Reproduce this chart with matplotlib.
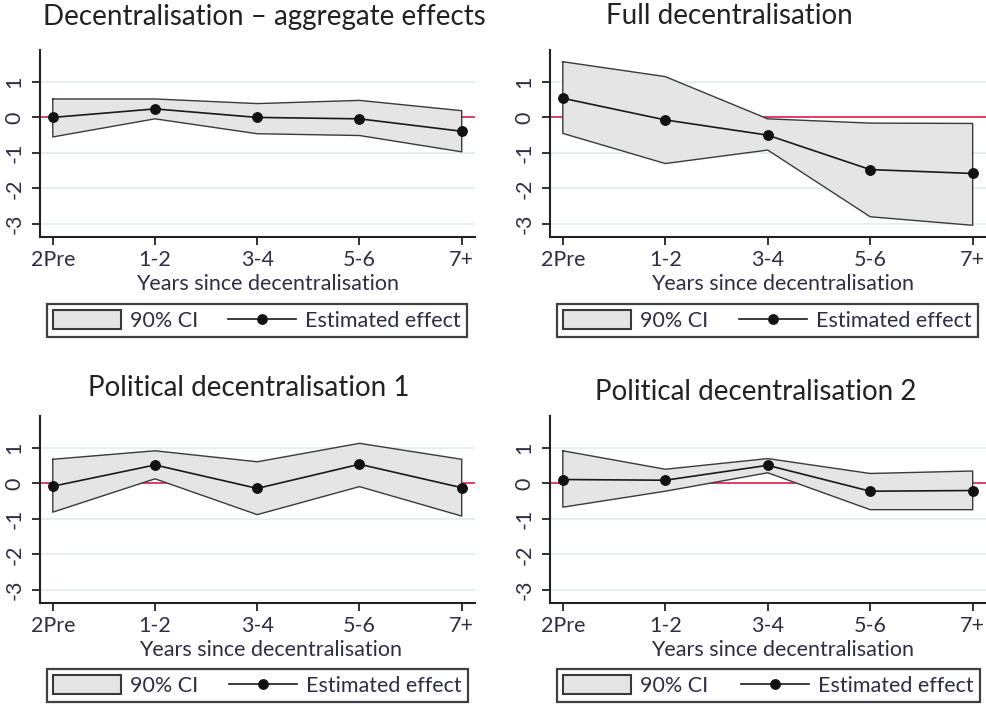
import matplotlib
matplotlib.use("Agg")
import matplotlib.pyplot as plt
from matplotlib.patches import Patch
from matplotlib.lines import Line2D

W, H = 986, 706
plt.rcParams['font.family'] = ['Lato', 'DejaVu Sans']

categories = ["2Pre", "1-2", "3-4", "5-6", "7+"]
yticks = [-3, -2, -1, 0, 1]
ytick_labels = ["-3", "-2", "-1", "0", "1"]

titles = ["Decentralisation \u2013 aggregate effects", "Full decentralisation",
          "Political decentralisation 1", "Political decentralisation 2"]

est_agg = [0.0, 0.24, 0.0, -0.04, -0.39]
hi_agg = [0.52, 0.52, 0.39, 0.48, 0.19]
lo_agg = [-0.55, -0.04, -0.46, -0.51, -0.97]

est_full = [0.54, -0.07, -0.5, -1.47, -1.58]
hi_full = [1.57, 1.15, -0.04, -0.16, -0.17]
lo_full = [-0.45, -1.3, -0.92, -2.8, -3.04]

est_pol1 = [-0.08, 0.52, -0.14, 0.54, -0.12]
hi_pol1 = [0.68, 0.92, 0.61, 1.13, 0.68]
lo_pol1 = [-0.81, 0.13, -0.88, -0.09, -0.92]

est_pol2 = [0.11, 0.09, 0.51, -0.22, -0.2]
hi_pol2 = [0.92, 0.40, 0.70, 0.28, 0.35]
lo_pol2 = [-0.67, -0.22, 0.30, -0.74, -0.74]

panels = [(est_agg, hi_agg, lo_agg), (est_full, hi_full, lo_full),
          (est_pol1, hi_pol1, lo_pol1), (est_pol2, hi_pol2, lo_pol2)]

# pixel layout (left, top, right, bottom)
ax_boxes = [(40, 50, 475, 237), (550, 50, 986, 237),
            (40, 416, 475, 603), (550, 416, 986, 603)]
title_pos = [(264, 25), (729, 24), (249, 396), (756, 400)]
xlabel_xc = [0.522, 0.534, 0.53, 0.534]
leg_boxes = [(47, 301, 467, 340), (557, 301, 978, 340),
             (47, 666, 468, 705), (557, 666, 980, 705)]

def fbox(l, t, r, b):
    return [l / W, 1 - b / H, (r - l) / W, (b - t) / H]

fig = plt.figure(figsize=(W / 100, H / 100), dpi=100)
fig.patch.set_facecolor("white")

txt_col = "#2e2e44"
fill_col = "#e5e5e5"
edge_col = "#3a3a3a"
red_col = "#d9325a"
grid_col = "#e2eef0"

for i, (est, hi, lo) in enumerate(panels):
    ax = fig.add_axes(fbox(*ax_boxes[i]))
    x = list(range(len(categories)))
    ax.set_xlim(-0.125, 4.13)
    ax.set_ylim(-3.37, 1.9)
    for yt in yticks:
        ax.axhline(yt, color=grid_col, lw=1.2, zorder=0)
    ax.axhline(0, color=red_col, lw=1.3, zorder=1)
    ax.fill_between(x, lo, hi, facecolor=fill_col, edgecolor="none", zorder=2)
    poly_x = x + x[::-1] + [x[0]]
    poly_y = hi + lo[::-1] + [hi[0]]
    ax.plot(poly_x, poly_y, color=edge_col, lw=1.0, zorder=3)
    ax.plot(x, est, color="#1a1a1a", lw=1.2, marker="o", ms=6.8,
            markerfacecolor="#111111", markeredgecolor="#111111", zorder=4)
    ax.set_xticks(x)
    ax.set_xticklabels(categories)
    ax.set_yticks(yticks)
    ax.set_yticklabels(ytick_labels, rotation=90, va="center")
    ax.tick_params(axis="both", length=6, width=1.3, colors="#222222",
                   labelcolor=txt_col, labelsize=15.5)
    ax.tick_params(axis="x", pad=3)
    ax.tick_params(axis="y", pad=5)
    for s in ["top", "right"]:
        ax.spines[s].set_visible(False)
    for s in ["left", "bottom"]:
        ax.spines[s].set_linewidth(1.5)
        ax.spines[s].set_color("#222222")
    ax.set_xlabel("Years since decentralisation", fontsize=15.5,
                  color=txt_col, va="baseline")
    l, t, r, b = ax_boxes[i]
    ax.xaxis.set_label_coords(xlabel_xc[i], -53 / (b - t))
    tx, ty = title_pos[i]
    fig.text(tx / W, 1 - ty / H, titles[i], ha="center", va="baseline",
             fontsize=20, color="#222222")
    handles = [Patch(facecolor=fill_col, edgecolor=edge_col, linewidth=1.5),
               Line2D([0], [0], color="#1a1a1a", lw=1.2, marker="o", ms=6.8,
                      markerfacecolor="#111111")]
    l, t, r, b = leg_boxes[i]
    leg = fig.legend(handles, ["90% CI", "Estimated effect"],
                     bbox_to_anchor=fbox(l, t, r, b), loc="center",
                     mode="expand", ncol=2, frameon=True, fancybox=False,
                     edgecolor="#111111", fontsize=15.5, handlelength=3.15,
                     handleheight=0.95, handletextpad=0.4, borderpad=0.3,
                     borderaxespad=0)
    leg.get_frame().set_linewidth(1.6)
    for t_ in leg.get_texts():
        t_.set_color(txt_col)

fig.savefig("out.png", dpi=100, facecolor="white")
